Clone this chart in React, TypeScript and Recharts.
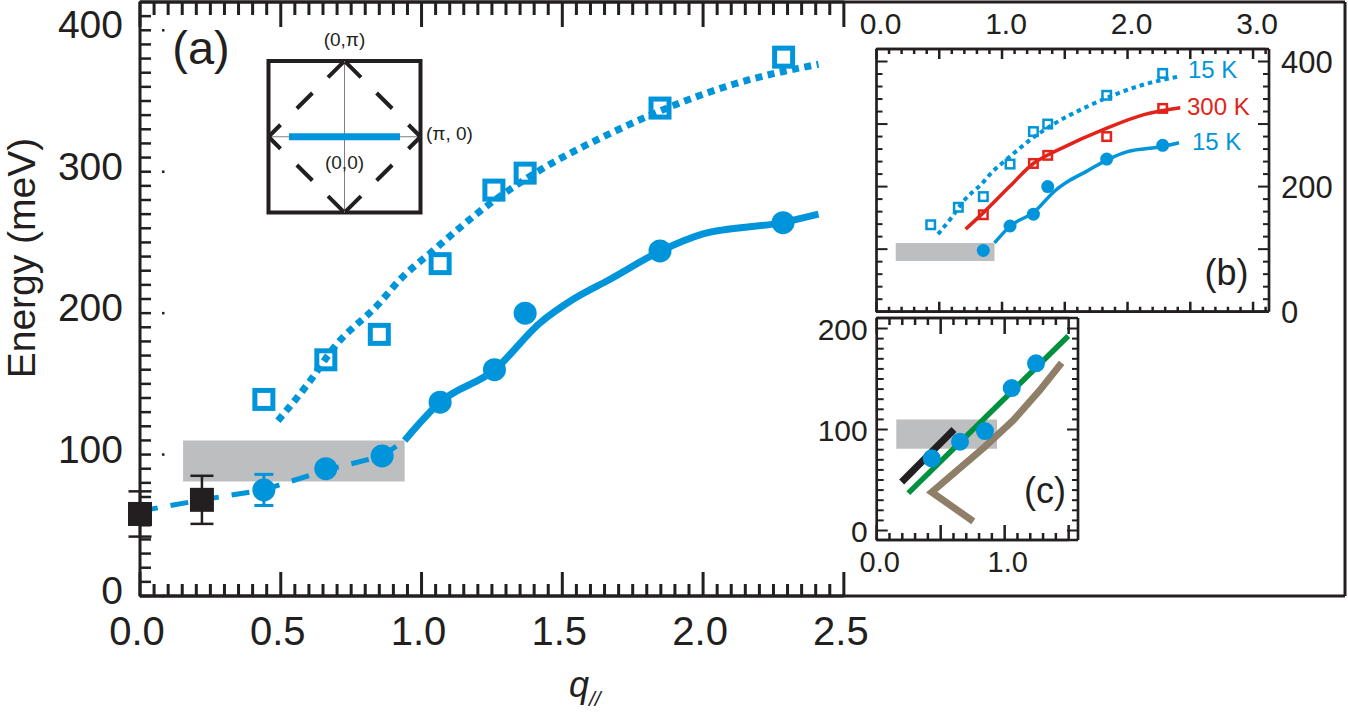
import React from 'react';
import { ComposedChart, Line, Scatter, XAxis, YAxis, ReferenceArea, ReferenceLine, ErrorBar } from 'recharts';

const INK = '#231F20';
const BLUE = '#0095DA';
const RED = '#E2231A';
const GREEN = '#00913F';
const TAUPE = '#8F7F69';
const GAP_GRAY = '#BDBEC0';
const FONT = '"Liberation Sans", Arial, Helvetica, sans-serif';

// ---------- Panel (a) ----------
const qOpen = [0.44, 0.66, 0.85, 1.066, 1.257, 1.368, 1.847, 2.286];
const eOpen = [139, 167, 185, 235, 287, 299, 345, 381];
const qFilled = [0.44, 0.66, 0.86, 1.066, 1.259, 1.368, 1.847, 2.284];
const eFilled = [75, 90, 99, 137, 160, 200, 244, 264];
const errFilled = [11, 0, 0, 0, 0, 0, 0, 0];
const qBlack = [0, 0.22];
const eBlack = [58, 68];
const errBlack = [16, 17];
const qDottedFit = [0.49, 0.6, 0.69, 0.85, 0.92, 1.04, 1.24, 1.42, 1.68, 1.91, 2.11, 2.41];
const eDottedFit = [124, 151, 176, 207, 223, 244, 277, 301, 328, 348, 362, 376];
const qSolidFit = [0.94, 1.066, 1.26, 1.42, 1.54, 1.67, 1.85, 2.0, 2.28, 2.41];
const eSolidFit = [110, 137, 160, 193, 210, 224, 244, 256, 264, 270];
const qDashedFit = [0, 0.22, 0.44, 0.66, 0.86, 0.94];
const eDashedFit = [60, 68, 75, 89, 99, 110];
const gapQ = [0.153, 0.94];
const gapE = [81, 110];

const mainXMajor = [0, 0.5, 1, 1.5, 2, 2.5];
const mainXLabels = ['0.0', '0.5', '1.0', '1.5', '2.0', '2.5'];
const mainYMajor = [0, 100, 200, 300, 400];
const mainYLabels = ['0', '100', '200', '300', '400'];

// ---------- Panel (b) ----------
const bqOpenBlue = [0.432, 0.652, 0.851, 1.064, 1.25, 1.364, 1.834, 2.28];
const beOpenBlue = [139, 167, 184, 236, 288, 300, 346, 381];
const bqOpenRed = [0.851, 1.25, 1.364, 1.834, 2.28];
const beOpenRed = [155, 237, 250, 280, 325];
const bqFilled = [0.851, 1.064, 1.25, 1.364, 1.834, 2.28];
const beFilled = [98, 137, 156, 200, 244, 266];
const bqRedFit = [0.71, 0.85, 1.06, 1.25, 1.36, 1.46, 1.83, 2.13, 2.42];
const beRedFit = [132, 158, 200, 237, 250, 260, 293, 315, 326];
const bXMajor = [0, 1, 2, 3];
const bXLabels = ['0.0', '1.0', '2.0', '3.0'];
const bYLabeled = [0, 200, 400];
const bYLabels = ['0', '200', '400'];

// ---------- Panel (c) ----------
const cqFilled = [0.43, 0.651, 0.846, 1.055, 1.245];
const ceFilled = [71.5, 88, 98.5, 141, 165.5];
const cqGreen = [0.247, 1.497];
const ceGreen = [37, 192.5];
const cqBlack = [0.195, 0.604];
const ceBlack = [48, 100];
const cqTaupe = [0.755, 0.43, 0.846, 1.067, 1.276, 1.445];
const ceTaupe = [9, 38, 83, 109, 139, 166];
const cXLabeled = [0, 1];
const cXLabels = ['0.0', '1.0'];
const cYLabeled = [0, 100, 200];
const cYLabels = ['0', '100', '200'];

// ---------- Brillouin-zone sketch ----------
const bzDiamond = [
  [[-1, 0], [0, 1]],
  [[-1, 0], [0, -1]],
  [[1, 0], [0, 1]],
  [[1, 0], [0, -1]],
];
const bzCut = [-0.73, 0.73];

const pts = (xs: number[], ys: number[], errs?: number[]) =>
  xs.map((x, i) => ({ x, y: ys[i], err: errs ? errs[i] : 0 }));

const range = (start: number, stop: number, step: number) => {
  const n = Math.round((stop - start) / step);
  return Array.from({ length: n + 1 }, (_, i) => Math.round((start + i * step) * 1e6) / 1e6);
};

const labelFor = (vals: number[], labs: string[]) => (v: number) => {
  const i = vals.findIndex((m) => Math.abs(m - v) < 1e-6);
  return i >= 0 ? labs[i] : null;
};

const isMajor = (v: number, step: number) => Math.abs(v / step - Math.round(v / step)) < 1e-6;

type LabelOpts = {
  label: (v: number) => string | null;
  size: number;
  dx?: number;
  dy?: number;
  anchor?: 'start' | 'middle' | 'end';
  dotStep?: number;
};

// tick label (and optional small marker dot) drawn by the axis
const makeLabel = (o: LabelOpts) => (p: any) => {
  const x = Number(p.x);
  const y = Number(p.y);
  const v = Number(p.payload.value);
  const lab = o.label(v);
  return (
    <g>
      {o.dotStep && isMajor(v, o.dotStep) ? <rect x={x + 22} y={y - 1.25} width={2.5} height={2.5} fill={INK} /> : null}
      {lab != null ? (
        <text x={x + (o.dx || 0)} y={y + (o.dy || 0)} textAnchor={o.anchor || 'middle'} fontSize={o.size} fontFamily={FONT} fill={INK}>
          {lab}
        </text>
      ) : null}
    </g>
  );
};

// y-axis inward tick marks as short reference segments; lengths in data units
const yTickMarks = (id: string, vals: number[], base: number, majorStep: number, majorLen: number, minorLen: number, sw: number) =>
  vals.map((v) => {
    const len = isMajor(v, majorStep) ? majorLen : minorLen;
    return <ReferenceLine key={`${id}-${v}`} segment={[{ x: base, y: v }, { x: base + len, y: v }]} stroke={INK} strokeWidth={sw} ifOverflow="visible" />;
  });

// x-axis inward tick marks drawn as one comb-shaped line series: base -> tip -> base at each tick value
const tickComb = (vals: number[], base: number, majorStep: number, majorLen: number, minorLen: number) =>
  vals.flatMap((v) => {
    const len = isMajor(v, majorStep) ? majorLen : minorLen;
    return [
      { x: v, y: base },
      { x: v, y: base + len },
      { x: v, y: base },
    ];
  });

const Comb = (data: any[], sw: number) => (
  <Line
    data={data}
    dataKey="y"
    type="linear"
    stroke={INK}
    strokeWidth={sw}
    strokeLinejoin="bevel"
    dot={false}
    activeDot={false}
    legendType="none"
    isAnimationActive={false}
  />
);

const openSquare = (size: number, sw: number, color: string) => (p: any) =>
  p.cx == null ? <g /> : <rect x={p.cx - size / 2} y={p.cy - size / 2} width={size} height={size} fill="none" stroke={color} strokeWidth={sw} />;
const filledSquare = (size: number, color: string) => (p: any) =>
  p.cx == null ? <g /> : <rect x={p.cx - size / 2} y={p.cy - size / 2} width={size} height={size} fill={color} />;
const disc = (r: number, color: string) => (p: any) =>
  p.cx == null ? <g /> : <circle cx={p.cx} cy={p.cy} r={r} fill={color} />;

const Txt = ({ x, y, size, anchor = 'middle', color = INK, children }: any) => {
  const tx = anchor === 'middle' ? '-50%' : anchor === 'end' ? '-100%' : '0';
  return (
    <div
      style={{
        position: 'absolute',
        left: x,
        top: y,
        transform: `translate(${tx}, -50%)`,
        fontSize: size,
        lineHeight: 1,
        fontFamily: FONT,
        color,
        whiteSpace: 'nowrap',
      }}
    >
      {children}
    </div>
  );
};

// ----- geometry of the frames (plot size in px and data domains)
const A_W = 1205, A_H = 594, A_QMAX = 4.28, A_EMAX = 420;
const B_W = 392.5, B_H = 262.7, B_QMAX = 3.127, B_EMAX = 420;
const C_W = 201.3, C_H = 222, C_QMAX = 1.573, C_EMIN = -9.4, C_EMAX = 210.4;
const aQ = A_QMAX / A_W, aE = A_EMAX / A_H;
const bQ = B_QMAX / B_W, bE = B_EMAX / B_H;
const cQ = C_QMAX / C_W, cE = (C_EMAX - C_EMIN) / C_H;

const mainXTicks = range(0, 2.5, 0.05);
const mainYTicks = range(0, 410, 10);
const bXTicks = range(0, 3.1, 0.1);
const bYTicks = range(0, 420, 20);
const cXTicks = range(0, 1.5, 0.1);
const cYTicks = range(0, 200, 10);

const axisCommon = { tickSize: 0, tickMargin: 0, tickLine: false, interval: 0 as const, type: 'number' as const };

export default function App() {
  return (
    <div style={{ position: 'absolute', left: 0, top: 0, width: 1348, height: 719, background: '#fff', overflow: 'hidden' }}>
      {/* Main panel (a) */}
      <div style={{ position: 'absolute', left: 0, top: 0 }}>
        <ComposedChart width={1348} height={719} margin={{ top: 1, right: 2, bottom: 122, left: 139 }}>
          <XAxis
            {...axisCommon}
            dataKey="x"
            domain={[0, A_QMAX]}
            ticks={mainXMajor}
            height={1}
            axisLine={{ stroke: INK, strokeWidth: 3 }}
            tick={makeLabel({ label: labelFor(mainXMajor, mainXLabels), size: 40, dx: -3, dy: 49 })}
          />
          <XAxis {...axisCommon} xAxisId="top" orientation="top" dataKey="x" domain={[0, A_QMAX]} allowDataOverflow height={1} axisLine={{ stroke: INK, strokeWidth: 3 }} tick={false} />
          <YAxis
            {...axisCommon}
            dataKey="y"
            domain={[0, A_EMAX]}
            ticks={mainYMajor}
            width={1}
            axisLine={{ stroke: INK, strokeWidth: 3 }}
            tick={makeLabel({ label: labelFor(mainYMajor, mainYLabels), size: 39, dx: -17, dy: 8, anchor: 'end', dotStep: 100 })}
          />
          <YAxis {...axisCommon} yAxisId="right" orientation="right" domain={[0, A_EMAX]} allowDataOverflow width={1} axisLine={{ stroke: INK, strokeWidth: 3 }} tick={false} />
          {yTickMarks('al', mainYTicks, 0, 100, 11 * aQ, 11 * aQ, 2.5)}
          <ReferenceArea x1={gapQ[0]} x2={gapQ[1]} y1={gapE[0]} y2={gapE[1]} fill={GAP_GRAY} fillOpacity={1} stroke="none" />
          {Comb(tickComb(mainXTicks, 0, 0.5, 24 * aE, 12 * aE), 3)}
          {Comb(tickComb(mainXTicks, A_EMAX, 0.5, -25 * aE, -13 * aE), 3)}
          <Line data={pts(qDashedFit, eDashedFit)} dataKey="y" type="linear" stroke={BLUE} strokeWidth={5} strokeDasharray="18 13" dot={false} isAnimationActive={false} />
          <Line data={pts(qSolidFit, eSolidFit)} dataKey="y" type="monotone" stroke={BLUE} strokeWidth={7} dot={false} isAnimationActive={false} />
          <Line data={pts(qDottedFit, eDottedFit)} dataKey="y" type="monotone" stroke={BLUE} strokeWidth={7} strokeDasharray="7 5.5" dot={false} isAnimationActive={false} />
          <Scatter data={pts(qOpen, eOpen)} dataKey="y" shape={openSquare(18, 5, BLUE)} isAnimationActive={false} />
          <Scatter data={pts(qFilled, eFilled, errFilled)} dataKey="y" shape={disc(11.5, BLUE)} isAnimationActive={false}>
            <ErrorBar dataKey="err" direction="y" width={9.5} stroke={BLUE} strokeWidth={3} />
          </Scatter>
          <Scatter data={pts(qBlack, eBlack, errBlack)} dataKey="y" shape={filledSquare(24, INK)} isAnimationActive={false}>
            <ErrorBar dataKey="err" direction="y" width={11.5} stroke={INK} strokeWidth={2.5} />
          </Scatter>
        </ComposedChart>
      </div>

      {/* Brillouin-zone sketch */}
      <div style={{ position: 'absolute', left: 200, top: 20 }}>
        <ComposedChart width={300} height={220} margin={{ top: 41, right: 79.5, bottom: 27.5, left: 68.5 }}>
          <XAxis type="number" dataKey="x" domain={[-1, 1]} hide allowDataOverflow />
          <YAxis type="number" dataKey="y" domain={[-1, 1]} hide allowDataOverflow />
          <ReferenceArea x1={-1} x2={1} y1={-1} y2={1} fill="#fff" fillOpacity={0} stroke={INK} strokeWidth={4} ifOverflow="visible" />
          <ReferenceLine segment={[{ x: 0, y: -1 }, { x: 0, y: 1 }]} stroke="#808080" strokeWidth={1} ifOverflow="visible" />
          <ReferenceLine segment={[{ x: -1, y: 0 }, { x: 1, y: 0 }]} stroke="#808080" strokeWidth={1} ifOverflow="visible" />
          {bzDiamond.map((s, i) => (
            <ReferenceLine
              key={i}
              segment={[{ x: s[0][0], y: s[0][1] }, { x: s[1][0], y: s[1][1] }]}
              stroke={INK}
              strokeWidth={4}
              strokeDasharray="17 23 22 22 22 22"
              ifOverflow="visible"
            />
          ))}
          <ReferenceLine segment={[{ x: bzCut[0], y: 0 }, { x: bzCut[1], y: 0 }]} stroke={BLUE} strokeWidth={7} ifOverflow="visible" />
        </ComposedChart>
      </div>

      {/* Inset (b) */}
      <div style={{ position: 'absolute', left: 820, top: 0 }}>
        <ComposedChart width={520} height={340} margin={{ top: 48, right: 70, bottom: 27.3, left: 55.5 }}>
          <XAxis
            {...axisCommon}
            dataKey="x"
            domain={[0, B_QMAX]}
            ticks={bXMajor}
            height={1}
            axisLine={{ stroke: INK, strokeWidth: 2.7 }}
            tick={makeLabel({ label: labelFor(bXMajor, bXLabels), size: 30, dx: 4, dy: -(B_H + 15) })}
          />
          <XAxis {...axisCommon} xAxisId="top" orientation="top" domain={[0, B_QMAX]} allowDataOverflow height={1} axisLine={{ stroke: INK, strokeWidth: 2.7 }} tick={false} />
          <YAxis {...axisCommon} dataKey="y" domain={[0, B_EMAX]} width={1} axisLine={{ stroke: INK, strokeWidth: 2.7 }} tick={false} />
          <YAxis
            {...axisCommon}
            yAxisId="right"
            orientation="right"
            domain={[0, B_EMAX]}
            allowDataOverflow
            ticks={bYLabeled}
            width={1}
            axisLine={{ stroke: INK, strokeWidth: 2.7 }}
            tick={makeLabel({ label: labelFor(bYLabeled, bYLabels), size: 31, dx: 12, dy: 11, anchor: 'start' })}
          />
          {yTickMarks('bl', bYTicks, 0, 100, 11 * bQ, 6 * bQ, 2)}
          {yTickMarks('br', bYTicks, B_QMAX, 100, -11 * bQ, -6 * bQ, 2)}
          <ReferenceArea x1={gapQ[0]} x2={gapQ[1]} y1={gapE[0]} y2={gapE[1]} fill={GAP_GRAY} fillOpacity={1} stroke="none" />
          {Comb(tickComb(bXTicks, 0, 0.5, 10 * bE, 5 * bE), 2.5)}
          {Comb(tickComb(bXTicks, B_EMAX, 0.5, -10 * bE, -5 * bE), 2.5)}
          <Line data={pts(qDottedFit, eDottedFit)} dataKey="y" type="monotone" stroke={BLUE} strokeWidth={4} strokeDasharray="4.5 4" dot={false} isAnimationActive={false} />
          <Line data={pts(bqRedFit, beRedFit)} dataKey="y" type="monotone" stroke={RED} strokeWidth={3.5} dot={false} isAnimationActive={false} />
          <Line data={pts(qSolidFit, eSolidFit)} dataKey="y" type="monotone" stroke={BLUE} strokeWidth={3.5} dot={false} isAnimationActive={false} />
          <Scatter data={pts(bqOpenBlue, beOpenBlue)} dataKey="y" shape={openSquare(8.5, 2.5, BLUE)} isAnimationActive={false} />
          <Scatter data={pts(bqOpenRed, beOpenRed)} dataKey="y" shape={openSquare(8.5, 2.5, RED)} isAnimationActive={false} />
          <Scatter data={pts(bqFilled, beFilled)} dataKey="y" shape={disc(6.5, BLUE)} isAnimationActive={false} />
        </ComposedChart>
      </div>

      {/* Inset (c) */}
      <div style={{ position: 'absolute', left: 780, top: 300 }}>
        <ComposedChart width={340} height={290} margin={{ top: 17, right: 41, bottom: 49, left: 95.7 }}>
          <XAxis
            {...axisCommon}
            dataKey="x"
            domain={[0, C_QMAX]}
            ticks={cXLabeled}
            height={1}
            axisLine={{ stroke: INK, strokeWidth: 2.7 }}
            tick={makeLabel({ label: labelFor(cXLabeled, cXLabels), size: 29, dx: 3, dy: 32 })}
          />
          <XAxis {...axisCommon} xAxisId="top" orientation="top" domain={[0, C_QMAX]} allowDataOverflow height={1} axisLine={{ stroke: INK, strokeWidth: 2.7 }} tick={false} />
          <YAxis
            {...axisCommon}
            dataKey="y"
            domain={[C_EMIN, C_EMAX]}
            ticks={cYLabeled}
            width={1}
            axisLine={{ stroke: INK, strokeWidth: 2.7 }}
            tick={makeLabel({ label: labelFor(cYLabeled, cYLabels), size: 30, dx: -9, dy: 11, anchor: 'end' })}
          />
          <YAxis {...axisCommon} yAxisId="right" orientation="right" domain={[C_EMIN, C_EMAX]} allowDataOverflow width={1} axisLine={{ stroke: INK, strokeWidth: 2.7 }} tick={false} />
          {yTickMarks('cl', cYTicks, 0, 100, 11 * cQ, 7 * cQ, 2)}
          {yTickMarks('cr', cYTicks, C_QMAX, 100, -11 * cQ, -6 * cQ, 2)}
          <ReferenceArea x1={gapQ[0]} x2={gapQ[1]} y1={gapE[0]} y2={gapE[1]} fill={GAP_GRAY} fillOpacity={1} stroke="none" />
          {Comb(tickComb(cXTicks, C_EMIN, 0.5, 15 * cE, 7 * cE), 2.5)}
          {Comb(tickComb(cXTicks, C_EMAX, 0.5, -16 * cE, -7 * cE), 2.5)}
          <Line data={pts(cqBlack, ceBlack)} dataKey="y" type="linear" stroke={INK} strokeWidth={7} dot={false} isAnimationActive={false} />
          <Line data={pts(cqGreen, ceGreen)} dataKey="y" type="linear" stroke={GREEN} strokeWidth={5.5} dot={false} isAnimationActive={false} />
          <Line data={pts(cqTaupe, ceTaupe)} dataKey="y" type="linear" stroke={TAUPE} strokeWidth={7} dot={false} isAnimationActive={false} />
          <Scatter data={pts(cqFilled, ceFilled)} dataKey="y" shape={disc(9, BLUE)} isAnimationActive={false} />
        </ComposedChart>
      </div>

      {/* Annotations */}
      <div
        style={{
          position: 'absolute',
          left: 22,
          top: 257.5,
          transform: 'translate(-50%, -50%) rotate(-90deg)',
          fontSize: 39,
          lineHeight: 1.1,
          fontFamily: FONT,
          color: INK,
          whiteSpace: 'nowrap',
        }}
      >
        Energy (meV)
      </div>
      <div style={{ position: 'absolute', left: 569, top: 667, fontFamily: FONT, color: INK, lineHeight: 1, whiteSpace: 'nowrap', fontStyle: 'italic' }}>
        <span style={{ fontSize: 36 }}>q</span>
        <span style={{ fontSize: 21, position: 'relative', top: 9 }}>//</span>
      </div>
      <Txt x={201} y={47} size={47}>(a)</Txt>
      <Txt x={1226.5} y={273} size={36}>(b)</Txt>
      <Txt x={1045} y={491} size={36}>(c)</Txt>
      <Txt x={1188} y={70} size={24} anchor="start" color={BLUE}>15 K</Txt>
      <Txt x={1187} y={106.5} size={24} anchor="start" color={RED}>300 K</Txt>
      <Txt x={1192} y={141.5} size={24} anchor="start" color={BLUE}>15 K</Txt>
      <Txt x={344.5} y={39} size={19}>(0,π)</Txt>
      <Txt x={426} y={133} size={19} anchor="start">(π, 0)</Txt>
      <Txt x={344.5} y={162} size={19}>(0,0)</Txt>
    </div>
  );
}
